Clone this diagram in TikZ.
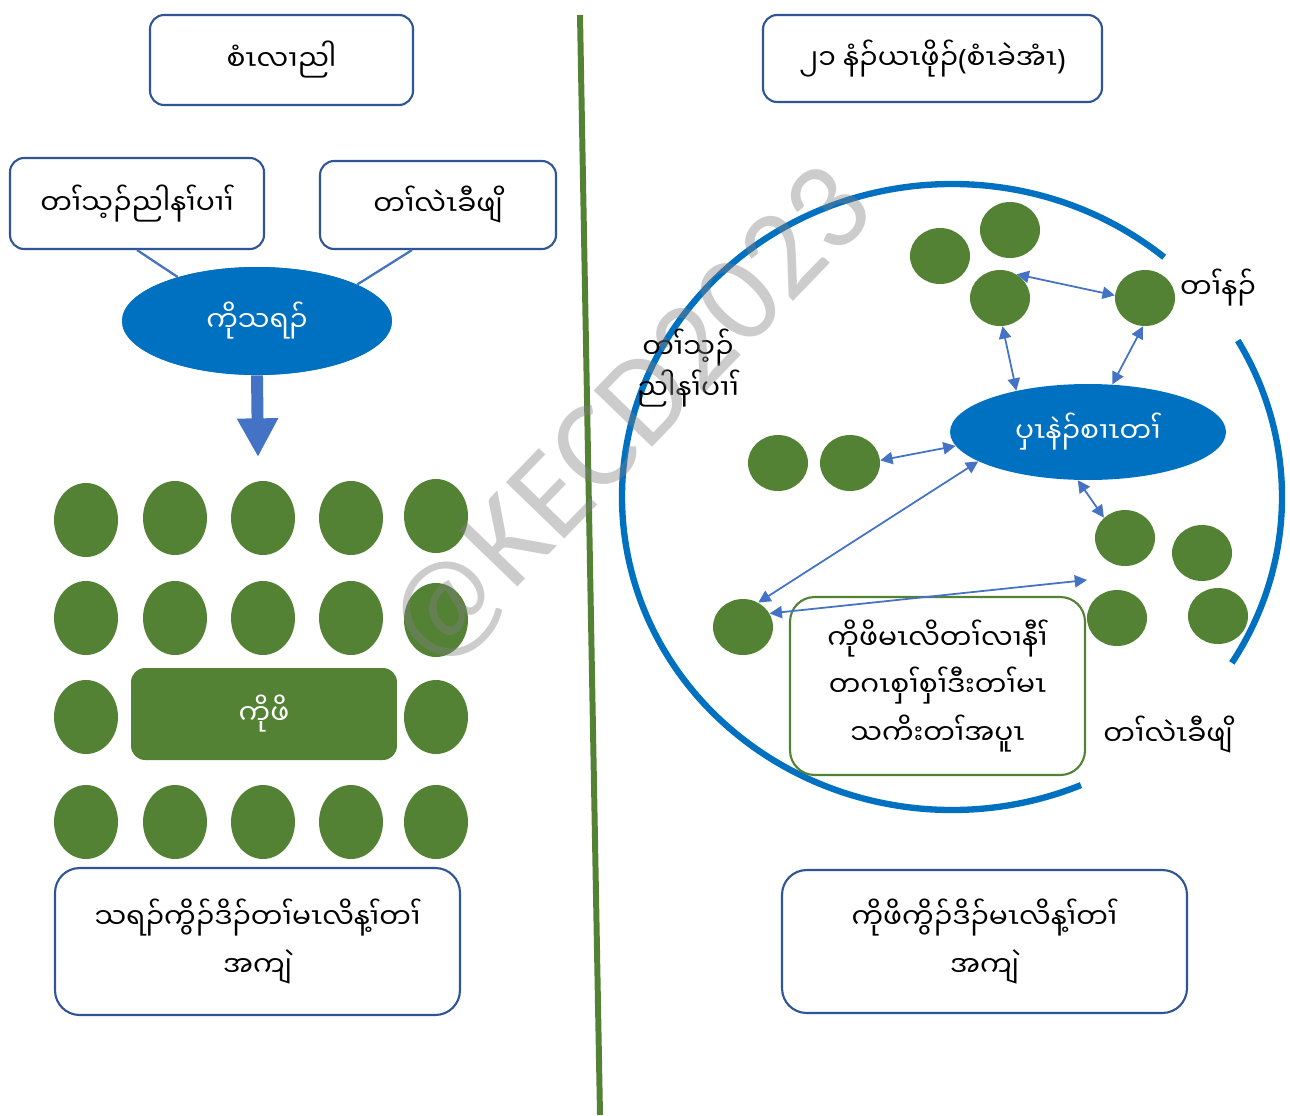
\documentclass[tikz,border=0pt]{standalone}
\usepackage{fontspec}
\newfontfamily\karen[Script=Myanmar]{Noto Sans Myanmar UI}
\newfontfamily\latin{Noto Sans}
\newfontfamily\markfont{Carlito}
\usetikzlibrary{shapes.geometric,arrows.meta}
\definecolor{boxblue}{HTML}{2F5597}
\definecolor{fillblue}{HTML}{0070C0}
\definecolor{linkblue}{HTML}{4472C4}
\definecolor{leafgreen}{HTML}{548235}

\tikzset{
  titlebox/.style={rectangle,rounded corners=8pt,draw=boxblue,line width=1.2pt,fill=white,align=center},
  waybox/.style={rectangle,rounded corners=14pt,draw=boxblue,line width=1.2pt,fill=white,align=center,minimum width=8.1cm},
  bluedisc/.style={ellipse,fill=fillblue,text=white},
  pupil/.style={ellipse,fill=leafgreen,minimum width=1.28cm,minimum height=1.48cm},
  learner/.style={ellipse,fill=leafgreen,minimum width=1.2cm,minimum height=1.12cm},
  link/.style={linkblue,line width=1pt,{Triangle[length=7pt,width=7pt]}-{Triangle[length=7pt,width=7pt]}},
  spoke/.style={linkblue,line width=1.3pt},
  ring/.style={fillblue,line width=3.6pt}
}

\begin{document}
\begin{tikzpicture}[x=0.02cm,y=-0.02cm,font=\karen\fontsize{16}{27}\selectfont]
    \useasboundingbox (0,0) rectangle (1290,1115);

    % divider
    \draw[leafgreen,line width=3.4pt] (580,15) -- (600,1115);

    % headings
    \node[titlebox,minimum width=5.26cm,minimum height=1.8cm] (before) at (281.5,60) {စံၤလၢညါ};
    \node[titlebox,minimum width=6.78cm,minimum height=1.74cm] (now) at (932.5,58.5) {၂၁ နံၣ်ယၤဖိုၣ်{\latin(}စံၤခဲအံၤ{\latin)}};

    % old way: teacher in front
    \node[titlebox,minimum width=5.08cm,minimum height=1.82cm] (know) at (137,203.5) {တၢ်သ့ၣ်ညါနၢ်ပၢၢ်};
    \node[titlebox,minimum width=4.72cm,minimum height=1.76cm] (exper) at (438,205) {တၢ်လဲၤခီဖျိ};
    \node[bluedisc,minimum width=5.4cm,minimum height=2.16cm] (teacher) at (257,321) {};
    \draw[spoke] (know.south) -- (teacher.151);
    \draw[spoke] (exper.-120) -- (teacher.20);
    \node[bluedisc,minimum width=5.4cm,minimum height=2.16cm] (teacher) at (257,321) {ကိုသရၣ်};
    \coordinate (drop) at (258,457);
    \draw[linkblue,line width=6.8pt,-{Triangle[width=22pt,length=22pt]}] (teacher.south) -- (drop);

    % rows of pupils
    \node[pupil] (p11) at (86,520) {};
    \node[pupil] (p12) at (175,518) {};
    \node[pupil] (p13) at (263,518) {};
    \node[pupil] (p14) at (351,518) {};
    \node[pupil] (p15) at (436,516) {};
    \node[pupil] (p21) at (86,618) {};
    \node[pupil] (p22) at (175,618) {};
    \node[pupil] (p23) at (263,618) {};
    \node[pupil] (p24) at (351,618) {};
    \node[pupil] (p25) at (436,620) {};
    \node[pupil] (p31) at (86,717) {};
    \node[rectangle,rounded corners=8pt,fill=leafgreen,text=white,minimum width=5.32cm,minimum height=1.84cm] (pupils) at (264,714) {ကိုဖိ};
    \node[pupil] (p35) at (436,717) {};
    \node[pupil] (p41) at (86,822) {};
    \node[pupil] (p42) at (175,822) {};
    \node[pupil] (p43) at (263,822) {};
    \node[pupil] (p44) at (351,822) {};
    \node[pupil] (p45) at (436,822) {};

    \node[waybox,minimum height=2.94cm] (oldway) at (257.5,941.5) {သရၣ်ကွိၣ်ဒိၣ်တၢ်မၤလိန့ၢ်တၢ်\\အကျဲ};

    % new way: learners round a guide
    \draw[ring] (952,497) ++(-50:330 and 313) arc[start angle=-50,end angle=-293,x radius=330,y radius=313];
    \draw[ring] (952,497) ++(-30:330 and 313) arc[start angle=-30,end angle=32,x radius=330,y radius=313];

    \node[learner] (r1) at (940,256) {};
    \node[learner] (r2) at (1010,230) {};
    \node[learner] (r3) at (1000,298) {};
    \node[learner] (r4) at (1145,298) {};
    \node[bluedisc,minimum width=5.52cm,minimum height=1.92cm] (guide) at (1088,432) {ပှၤနဲၣ်စၢၤတၢ်};
    \node[learner] (l1) at (778,463) {};
    \node[learner] (l2) at (850,463) {};
    \node[learner] (s1) at (1125,538) {};
    \node[learner] (s2) at (1202,553) {};
    \node[learner] (s3) at (1117,618) {};
    \node[learner] (s4) at (1218,616) {};
    \node[learner] (lone) at (743,627) {};

    \node[rectangle,rounded corners=14pt,draw=leafgreen,line width=1.2pt,fill=white,align=center,minimum width=5.9cm,minimum height=3.56cm] (team) at (937.5,686) {ကိုဖိမၤလိတၢ်လၢနီၢ်\\တဂၤစှၢ်စှၢ်ဒီးတၢ်မၤ\\သကိးတၢ်အပူၤ};

    \node (skill) at (1218,288) {တၢ်နၣ်};
    \node[align=center,font=\karen\fontsize{16}{23}\selectfont] (knowlab) at (688,368) {တၢ်သ့ၣ်\\ညါနၢ်ပၢၢ်};
    \node (experlab) at (1168,735) {တၢ်လဲၤခီဖျိ};

    \draw[link] (r3.55) -- (r4.175);
    \draw[link] (r3.-85) -- (guide.150);
    \draw[link] (r4.-94) -- (guide.63);
    \draw[link] (l2.5) -- (guide.186);
    \draw[link] (guide.-102) -- (s1.136);
    \draw[link] (lone.58) -- (guide.-165);
    \coordinate (aim) at (1087,580);
    \draw[link] (lone.27) -- (aim);

    \node[waybox,minimum height=2.86cm] (newway) at (984.5,941.5) {ကိုဖိကွိၣ်ဒိၣ်မၤလိန့ၢ်တၢ်\\အကျဲ};

    % watermark
    \node[rotate=46,text=gray,opacity=0.4,font=\markfont\fontsize{72}{72}\selectfont] (mark) at (632,420) {@KECD2023};
\end{tikzpicture}
\end{document}
